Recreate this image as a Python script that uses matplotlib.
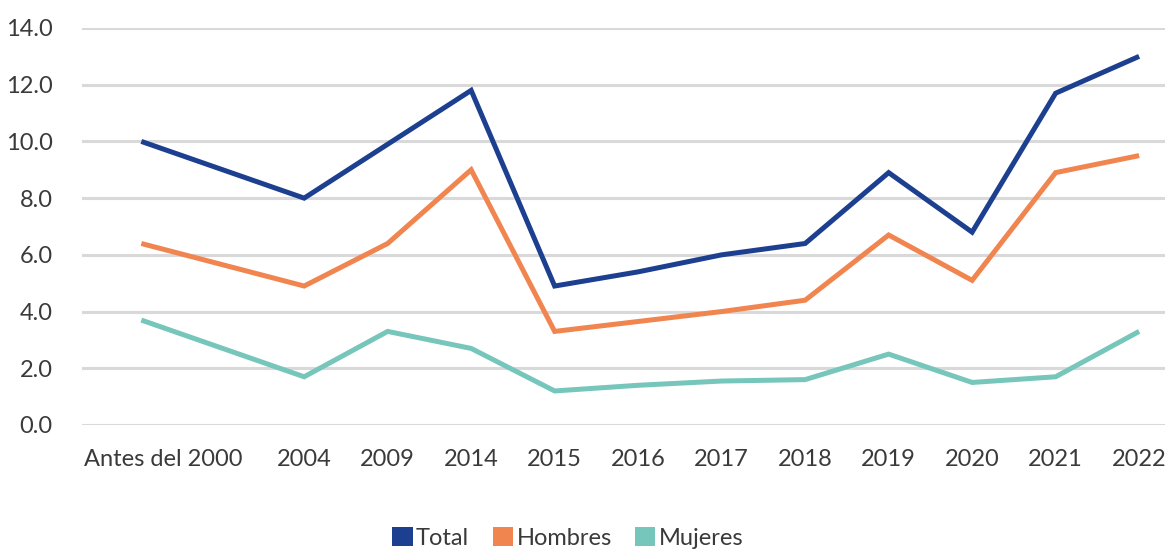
import matplotlib
matplotlib.use("Agg")
import matplotlib.pyplot as plt
import matplotlib.transforms as mtransforms
from matplotlib.patches import Patch
import numpy as np

categories = ["Antes del 2000", "2004", "2009", "2014", "2015", "2016",
              "2017", "2018", "2019", "2020", "2021", "2022"]
total = [10.0, 8.0, 9.9, 11.8, 4.9, 5.4, 6.0, 6.4, 8.9, 6.8, 11.7, 13.0]
hombres = [6.4, 4.9, 6.4, 9.0, 3.3, 3.65, 4.0, 4.4, 6.7, 5.1, 8.9, 9.5]
mujeres = [3.7, 1.7, 3.3, 2.7, 1.2, 1.4, 1.55, 1.6, 2.5, 1.5, 1.7, 3.3]
series_names = ["Total", "Hombres", "Mujeres"]
colors = ["#1c3f8f", "#f0854f", "#76c6bc"]
text_color = "#3a3a3a"

plt.rcParams["font.family"] = ["Lato", "DejaVu Sans"]

fig = plt.figure(figsize=(11.67, 5.51), dpi=100)
ax = fig.add_axes([0.0703, 0.2287, 0.928, 0.7205])

# category positions: the first (wide) category sits a bit further left
x = np.arange(len(categories), dtype=float)
x[0] = -0.95

for vals, name, col in zip([total, hombres, mujeres], series_names, colors):
    ax.plot(x, vals, color=col, lw=3.6, solid_joinstyle="miter",
            solid_capstyle="butt", label=name, zorder=3)

ax.set_ylim(0, 14)
ax.set_xlim(-1.66, 11.31)
ax.set_yticks(np.arange(0, 15, 2))
ax.set_yticklabels([f"{v:.1f}" for v in np.arange(0, 15, 2)])
ax.set_xticks(x)
ax.set_xticklabels(categories)
ax.grid(axis="y", color="#d9d9d9", lw=2.2, zorder=0)
ax.set_axisbelow(True)
for s in ax.spines.values():
    s.set_visible(False)
ax.tick_params(axis="both", length=0, labelsize=17, colors=text_color)
ax.tick_params(axis="y", pad=21)
ax.tick_params(axis="x", pad=17)

# nudge the long first label to the right so it starts at the plot edge
first = ax.get_xticklabels()[0]
first.set_transform(first.get_transform() +
                    mtransforms.ScaledTranslation(22 / 100, 0, fig.dpi_scale_trans))

handles = [Patch(facecolor=c, edgecolor="none") for c in colors]
fig.legend(handles, series_names, loc="center", bbox_to_anchor=(568 / 1167, 1 - 538 / 551),
           ncol=3, frameon=False, fontsize=17, labelcolor=text_color,
           handlelength=0.85, handleheight=0.85, handletextpad=0.15,
           columnspacing=1.0, borderpad=0)

fig.savefig("out.png", dpi=100, facecolor="white")
